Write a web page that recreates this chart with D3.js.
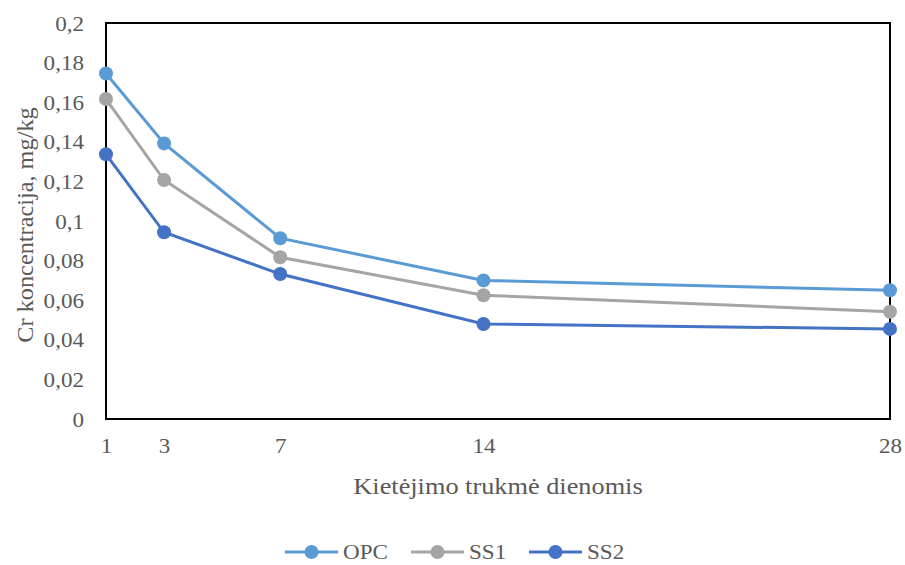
<!DOCTYPE html>
<html><head><meta charset="utf-8">
<script src="https://cdn.jsdelivr.net/npm/d3@7"></script>
<style>body{margin:0;background:#fff}svg{display:block}</style>
</head><body><svg id="c" width="905" height="565"></svg>
<script>
const days = [1, 3, 7, 14, 28];
const seriesNames = ["OPC", "SS1", "SS2"];
const opc = [0.1745, 0.1392, 0.0913, 0.0700, 0.0650];
const ss1 = [0.1616, 0.1207, 0.0817, 0.0625, 0.0542];
const ss2 = [0.1337, 0.0943, 0.0732, 0.0480, 0.0455];
const yTicks = [0, 0.02, 0.04, 0.06, 0.08, 0.1, 0.12, 0.14, 0.16, 0.18, 0.2];
const colors = ["#5B9BD5", "#A5A5A5", "#4472C4"];
const data = [opc, ss1, ss2];
const FONT = "'Liberation Serif', 'Times New Roman', 'DejaVu Serif', serif";

const svg = d3.select("#c");
const L = 106, R = 890, T = 23, B = 419;
const x = d3.scaleLinear().domain([1, 28]).range([L, R]);
const y = d3.scaleLinear().domain([0, 0.2]).range([B, T]);
const fmt = v => String(v).replace(".", ",");
// font styling with a slight horizontal glyph stretch (reference text is wide)
function styleText(sel, size, sx) {
  sel.style("font-family", FONT).style("font-size", size + "px").style("fill", "#595959");
  sel.each(function () {
    const t = d3.select(this);
    const x0 = +(t.attr("x") || 0);
    t.attr("x", x0 / sx);
    const tr = t.attr("transform") || "";
    t.attr("transform", (tr + ` scale(${sx},1)`).trim());
  });
  return sel;
}

svg.append("rect").attr("x", L).attr("y", T).attr("width", R - L).attr("height", B - T)
  .attr("fill", "none").attr("stroke", "#000").attr("stroke-width", 2);

const ya = svg.append("g").attr("transform", `translate(${L},0)`)
  .call(d3.axisLeft(y).tickValues(yTicks).tickFormat(fmt).tickSize(0).tickPadding(22));
ya.select(".domain").remove();
styleText(ya.selectAll("text").attr("dy", "0.34em"), 21, 1.1);

const xa = svg.append("g").attr("transform", `translate(0,${B})`)
  .call(d3.axisBottom(x).tickValues(days).tickFormat(d3.format("d")).tickSize(0));
xa.select(".domain").remove();
styleText(xa.selectAll("text").attr("y", 34).attr("dy", 0), 21, 1.1);

styleText(svg.append("text").attr("x", 498).attr("y", 494).attr("text-anchor", "middle")
  .text("Kietėjimo trukmė dienomis"), 22.5, 1.17);
styleText(svg.append("text").attr("transform", `translate(33,225) rotate(-90)`)
  .attr("text-anchor", "middle").text("Cr koncentracija, mg/kg"), 22.5, 1.08);

const line = d3.line().x((d, i) => x(days[i])).y(d => y(d));
data.forEach((s, k) => {
  svg.append("path").datum(s).attr("d", line).attr("fill", "none")
    .attr("stroke", colors[k]).attr("stroke-width", 3);
  svg.selectAll(null).data(s).enter().append("circle")
    .attr("cx", (d, i) => x(days[i])).attr("cy", d => y(d)).attr("r", 7).attr("fill", colors[k]);
});

// legend
const lx = [285, 411, 529];
seriesNames.forEach((n, k) => {
  const g = svg.append("g").attr("transform", `translate(${lx[k]},552)`);
  g.append("line").attr("x1", 0).attr("x2", 53).attr("y1", 0).attr("y2", 0)
    .attr("stroke", colors[k]).attr("stroke-width", 3);
  g.append("circle").attr("cx", 26.5).attr("cy", 0).attr("r", 7).attr("fill", colors[k]);
  styleText(g.append("text").attr("x", 58).attr("y", 7).text(n), 22, 1.05);
});
</script></body></html>
